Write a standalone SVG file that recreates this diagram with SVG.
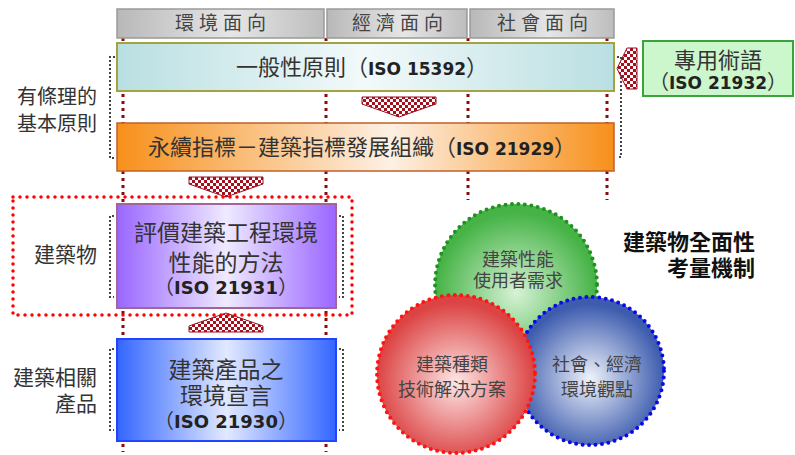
<svg xmlns="http://www.w3.org/2000/svg" width="795" height="455" viewBox="0 0 795 455">
<defs>
<linearGradient id="gHead" x1="0" y1="0" x2="1" y2="0">
<stop offset="0" stop-color="#b8b8b8"/><stop offset="0.55" stop-color="#e6e6e6"/><stop offset="1" stop-color="#bdbdbd"/>
</linearGradient>
<linearGradient id="gGen" x1="0" y1="0" x2="1" y2="0">
<stop offset="0" stop-color="#b9dfe2"/><stop offset="0.5" stop-color="#f2f9fa"/><stop offset="1" stop-color="#b9dfe2"/>
</linearGradient>
<linearGradient id="gOra" x1="0" y1="0" x2="1" y2="0">
<stop offset="0" stop-color="#f7901a"/><stop offset="0.55" stop-color="#fdf0e4"/><stop offset="1" stop-color="#f7901a"/>
</linearGradient>
<linearGradient id="gPur" x1="0" y1="0" x2="1" y2="0">
<stop offset="0" stop-color="#9a66ff"/><stop offset="0.5" stop-color="#efeaff"/><stop offset="1" stop-color="#9a66ff"/>
</linearGradient>
<linearGradient id="gBlu" x1="0" y1="0" x2="1" y2="0">
<stop offset="0" stop-color="#3366ff"/><stop offset="0.5" stop-color="#e2e9ff"/><stop offset="1" stop-color="#3366ff"/>
</linearGradient>
<radialGradient id="rG" cx="0.5" cy="0.55" r="0.5">
<stop offset="0" stop-color="#d6f2d6"/><stop offset="1" stop-color="#45b345"/>
</radialGradient>
<radialGradient id="rR" cx="0.5" cy="0.55" r="0.5">
<stop offset="0" stop-color="#fde6e6"/><stop offset="1" stop-color="#dc4444"/>
</radialGradient>
<radialGradient id="rB" cx="0.5" cy="0.55" r="0.5">
<stop offset="0" stop-color="#eef2fa"/><stop offset="1" stop-color="#3d5cae"/>
</radialGradient>
<pattern id="chk" width="6" height="6" patternUnits="userSpaceOnUse">
<rect width="6" height="6" fill="#ffffff"/>
<rect width="3" height="3" fill="#a3101e"/>
<rect x="3" y="3" width="3" height="3" fill="#a3101e"/>
</pattern>
<style>
.cj{font-family:"Noto Sans CJK TC","Noto Sans CJK SC",sans-serif;fill:#333}
.iso{font-family:"DejaVu Sans",Verdana,sans-serif;font-weight:bold;fill:#222}
.hd{font-size:19px;letter-spacing:5px;fill:#444}
.vl{stroke:#8c0a0a;stroke-width:3;stroke-dasharray:3 4;fill:none}
.br{stroke:#444;stroke-width:2;stroke-dasharray:2 2;fill:none}
.arr{fill:url(#chk);stroke:#9a1020;stroke-width:1}
.cdot{fill:none;stroke-width:4;stroke-linecap:round;stroke-dasharray:0 6.5}
.ct{fill:#444}
.ttl{fill:#111;font-weight:bold}
</style>
</defs>
<rect width="795" height="455" fill="#ffffff"/>

<g id="connectors">
<line class="vl" x1="123" y1="38" x2="123" y2="452"/>
<line class="vl" x1="326" y1="38" x2="326" y2="452"/>
<line class="vl" x1="468" y1="38" x2="468" y2="200"/>
<line class="vl" x1="607" y1="38" x2="607" y2="200"/>
<path class="br" d="M115,57 H110 V158 H115"/>
<path class="br" d="M617,57 H621 V157 H617"/>
<path class="br" d="M114,216 H110 V297 H114"/>
<path class="br" d="M339,216 H343 V297 H339"/>
<path class="br" d="M114,349 H110 V430 H114"/>
<path class="br" d="M339,349 H343 V430 H339"/>
<polygon class="arr" points="362,97 436,97 436,104 399,117 362,104"/>
<polygon class="arr" points="189,177 263,177 263,184 226,197 189,184"/>
<polygon class="arr" points="189,332 263,332 263,326 226,313 189,326"/>
<polygon class="arr" points="627,48 637,48 637,89 627,89 617,68.5"/>
</g>

<g id="header-env">
<rect x="117" y="9" width="207" height="29" fill="url(#gHead)" stroke="#9a9a9a" stroke-width="1.5"/>
<text class="cj hd" x="223" y="30" text-anchor="middle">環境面向</text>
</g>
<g id="header-econ">
<rect x="327" y="9" width="140" height="29" fill="url(#gHead)" stroke="#9a9a9a" stroke-width="1.5"/>
<text class="cj hd" x="400" y="30" text-anchor="middle">經濟面向</text>
</g>
<g id="header-soc">
<rect x="470" y="9" width="144" height="29" fill="url(#gHead)" stroke="#9a9a9a" stroke-width="1.5"/>
<text class="cj hd" x="545" y="30" text-anchor="middle">社會面向</text>
</g>

<g id="general">
<rect x="117" y="43" width="497" height="48" fill="url(#gGen)" stroke="#a3a340" stroke-width="2"/>
<text class="cj" x="362" y="75" text-anchor="middle" font-size="22">一般性原則（<tspan class="iso" font-size="17">ISO 15392</tspan>）</text>
</g>

<g id="indicators">
<rect x="117" y="123" width="497" height="48" fill="url(#gOra)" stroke="#c0602a" stroke-width="1.5"/>
<text class="cj" x="362" y="155" text-anchor="middle" font-size="22">永續指標－建築指標發展組織（<tspan class="iso" font-size="17">ISO 21929</tspan>）</text>
</g>

<g id="terms">
<rect x="643" y="41" width="150" height="55" fill="#ccf6cc" stroke="#3aa33a" stroke-width="2"/>
<text class="cj" text-anchor="middle" font-size="22"><tspan x="718" y="68">專用術語</tspan><tspan x="718" y="89" font-size="20">（<tspan class="iso" font-size="17">ISO 21932</tspan>）</tspan></text>
</g>

<g id="label-principles">
<text class="cj" text-anchor="end" font-size="20"><tspan x="97" y="104">有條理的</tspan><tspan x="97" y="131">基本原則</tspan></text>
</g>

<g id="building-frame">
<rect x="13" y="197" width="339" height="118" fill="none" stroke="#ff0000" stroke-width="3.5" stroke-linecap="round" stroke-dasharray="0 7"/>
<text class="cj" x="97" y="262" text-anchor="end" font-size="21">建築物</text>
</g>

<g id="assessment">
<rect x="117" y="204" width="219" height="104" fill="url(#gPur)" stroke="#a4649a" stroke-width="2"/>
<text class="cj" text-anchor="middle" font-size="23"><tspan x="226" y="241">評價建築工程環境</tspan><tspan x="226" y="271">性能的方法</tspan><tspan x="226" y="294" font-size="20">（<tspan class="iso" font-size="18">ISO 21931</tspan>）</tspan></text>
</g>

<g id="label-products">
<text class="cj" text-anchor="end" font-size="21"><tspan x="97" y="385">建築相關</tspan><tspan x="97" y="411">產品</tspan></text>
</g>

<g id="declaration">
<rect x="117" y="339" width="219" height="102" fill="url(#gBlu)" stroke="#2244ff" stroke-width="2"/>
<text class="cj" text-anchor="middle" font-size="23"><tspan x="226" y="378">建築產品之</tspan><tspan x="226" y="404">環境宣言</tspan><tspan x="226" y="428" font-size="20">（<tspan class="iso" font-size="18">ISO 21930</tspan>）</tspan></text>
</g>

<g id="circle-green">
<circle cx="516" cy="285" r="81" fill="url(#rG)"/>
<circle class="cdot" cx="516" cy="285" r="81" stroke="#1f931f"/>
<text class="cj ct" text-anchor="middle" font-size="18"><tspan x="518" y="266">建築性能</tspan><tspan x="518" y="287">使用者需求</tspan></text>
</g>
<g id="circle-blue">
<circle cx="590" cy="371" r="74" fill="url(#rB)"/>
<circle class="cdot" cx="590" cy="371" r="74" stroke="#0a0ae8"/>
<text class="cj ct" text-anchor="middle" font-size="18"><tspan x="597" y="371">社會、經濟</tspan><tspan x="597" y="396">環境觀點</tspan></text>
</g>
<g id="circle-red">
<circle cx="456" cy="374" r="79" fill="url(#rR)"/>
<circle class="cdot" cx="456" cy="374" r="79" stroke="#ff1414"/>
<text class="cj ct" text-anchor="middle" font-size="18"><tspan x="452" y="371">建築種類</tspan><tspan x="452" y="396">技術解決方案</tspan></text>
</g>

<g id="title">
<text class="cj ttl" text-anchor="end" font-size="22"><tspan x="755" y="250">建築物全面性</tspan><tspan x="755" y="276">考量機制</tspan></text>
</g>
</svg>
